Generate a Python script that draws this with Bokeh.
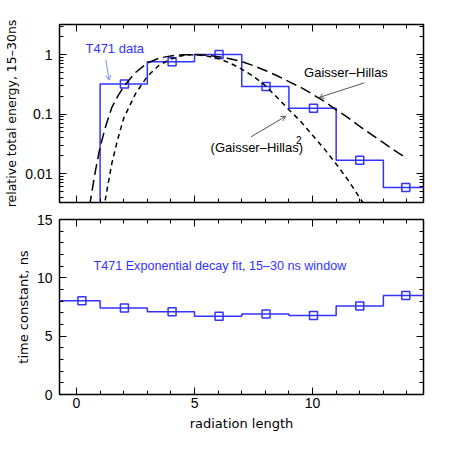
from bokeh.plotting import figure
from bokeh.models import (Range1d, LinearAxis, LogAxis, FixedTicker, Label, Arrow,
                          OpenHead, CustomJSTickFormatter)
from bokeh.layouts import column
from bokeh.embed import file_html
from bokeh.resources import INLINE

# ---------------- data ----------------
bin_edges = [-1, 1, 3, 5, 7, 9, 11, 13, 15]
marker_x = [0.23, 2.03, 4.05, 6.04, 8.03, 10.04, 12.0, 13.95]
# relative total energy per bin (first bin below plotted range)
energy = [0.0001, 0.32, 0.76, 1.0, 0.29, 0.125, 0.0167, 0.0058]
# exponential decay time constant, ns
tau = [8.03, 7.42, 7.1, 6.7, 6.9, 6.78, 7.58, 8.48]

gh_t = [0.55, 0.8, 1.0, 1.25, 1.5, 1.75, 2.0, 2.5, 3.0, 3.5, 4.0, 4.5, 5.0, 5.5, 6.0,
        6.5, 7.0, 7.5, 8.0, 8.5, 9.0, 9.5, 10.0, 10.5, 11.0, 11.5, 12.0, 12.5, 13.0,
        13.5, 14.0]
gh_val = [0.0028, 0.011, 0.028, 0.065, 0.13, 0.2, 0.29, 0.5, 0.72, 0.87, 0.95, 0.99,
          1.0, 0.97, 0.92, 0.85, 0.76, 0.65, 0.54, 0.44, 0.35, 0.28, 0.215, 0.163,
          0.118, 0.087, 0.062, 0.045, 0.033, 0.024, 0.018]

gh2_t = [1.15, 1.3, 1.5, 1.75, 2.0, 2.5, 3.0, 3.5, 4.0, 4.5, 5.0, 5.5, 6.0, 6.5, 7.0,
         7.5, 8.0, 8.5, 9.0, 9.5, 10.0, 10.5, 11.0, 11.5, 12.0, 12.3]
gh2_val = [0.0025, 0.0055, 0.015, 0.038, 0.085, 0.22, 0.43, 0.66, 0.84, 0.96, 1.0,
           0.95, 0.86, 0.72, 0.57, 0.43, 0.30, 0.19, 0.118, 0.075, 0.044, 0.026,
           0.0145, 0.0078, 0.0039, 0.0026]

x_major = [0, 5, 10]
x_minor = list(range(0, 15))
e_major = [0.01, 0.1, 1]
t_major = [0, 5, 10, 15]
t_minor = list(range(0, 16))

BLUE = "#3333ff"
TICK_FONT = "Liberation Sans"
LABEL_FONT = "DejaVu Sans"


def step_path(edges, vals):
    xs, ys = [], []
    for i, v in enumerate(vals):
        xs += [edges[i], edges[i + 1]]
        ys += [v, v]
    return xs, ys


def style_axis(ax, show_labels=True, major_len=7, minor_len=4):
    ax.axis_line_color = None
    ax.major_tick_in = major_len
    ax.major_tick_out = 0
    ax.minor_tick_in = minor_len
    ax.minor_tick_out = 0
    ax.major_tick_line_color = "black"
    ax.minor_tick_line_color = "black"
    ax.major_tick_line_width = 1
    ax.minor_tick_line_width = 1
    ax.major_label_text_font = TICK_FONT
    ax.major_label_text_color = "black"
    if show_labels:
        ax.major_label_text_font_size = "14px"
        ax.major_label_standoff = 7
    else:
        ax.formatter = CustomJSTickFormatter(code="return '';")
        ax.major_label_text_font_size = "2px"
        ax.major_label_standoff = 0
    ax.axis_label_text_font = LABEL_FONT
    ax.axis_label_text_font_size = "13px"
    ax.axis_label_text_font_style = "normal"
    ax.axis_label_text_color = "black"
    ax.axis_label_standoff = 3


fmt = CustomJSTickFormatter(code="return String(tick);")

# ---------------- top panel ----------------
xr = Range1d(-0.72, 14.7)
p1 = figure(width=434, height=209, x_range=xr,
            y_range=Range1d(0.00326, 3.2), y_axis_type="log",
            output_backend="svg", toolbar_location=None,
            min_border_left=59, min_border_right=11, min_border_top=24,
            min_border_bottom=7)
p1.outline_line_color = "black"
p1.outline_line_width = 1.5
p1.grid.visible = False
p1.background_fill_color = "white"

log_minor = [m * 10.0 ** e for e in range(-3, 1) for m in range(2, 10)]
p1.yaxis.ticker = FixedTicker(ticks=e_major, minor_ticks=log_minor)
style_axis(p1.yaxis[0])
p1.yaxis.formatter = fmt
p1.yaxis.axis_label = "relative total energy, 15\u201330ns"
p1.yaxis.axis_label_text_font_size = "12.5px"
p1.xaxis.ticker = FixedTicker(ticks=x_major, minor_ticks=x_minor)
style_axis(p1.xaxis[0], show_labels=False)

ax_r1 = LogAxis(ticker=FixedTicker(ticks=e_major, minor_ticks=log_minor))
style_axis(ax_r1, show_labels=False)
p1.add_layout(ax_r1, "right")
ax_t1 = LinearAxis(ticker=FixedTicker(ticks=x_major, minor_ticks=x_minor))
style_axis(ax_t1, show_labels=False)
p1.add_layout(ax_t1, "above")

sx, sy = step_path(bin_edges, energy)
p1.line(sx, sy, line_color=BLUE, line_width=1.5)
p1.scatter(marker_x, energy, marker="square", size=8, fill_color=None,
           line_color=BLUE, line_width=1.5)
p1.line(gh_t, gh_val, line_color="black", line_width=1.5, line_dash="11 5")
p1.line(gh2_t, gh2_val, line_color="black", line_width=1.5, line_dash="5 4")

p1.add_layout(Label(x=0.38, y=1.26, text="T471 data", text_font=TICK_FONT,
                    text_font_size="13px", text_color=BLUE, text_baseline="middle"))
p1.add_layout(Arrow(x_start=1.24, y_start=0.82, x_end=1.38, y_end=0.37,
                    line_color="#7f8fff", line_width=1,
                    end=OpenHead(size=5, line_color="#7f8fff", line_width=1)))
p1.add_layout(Label(x=9.64, y=0.5, text="Gaisser\u2013Hillas", text_font=TICK_FONT,
                    text_font_size="13px", text_color="black", text_baseline="middle"))
p1.add_layout(Arrow(x_start=12.19, y_start=0.334, x_end=10.28, y_end=0.19,
                    line_color="#555555", line_width=1,
                    end=OpenHead(size=5, line_color="#555555", line_width=1)))
p1.add_layout(Label(x=5.68, y=0.0273, text="(Gaisser\u2013Hillas)", text_font=TICK_FONT,
                    text_font_size="13px", text_color="black", text_baseline="middle"))
p1.add_layout(Label(x=9.3, y=0.037, text="2", text_font=TICK_FONT,
                    text_font_size="10px", text_color="black", text_baseline="middle"))
p1.add_layout(Arrow(x_start=7.39, y_start=0.0414, x_end=8.87, y_end=0.092,
                    line_color="#555555", line_width=1,
                    end=OpenHead(size=5, line_color="#555555", line_width=1)))

# ---------------- bottom panel ----------------
p2 = figure(width=434, height=224, x_range=xr,
            y_range=Range1d(0, 15),
            output_backend="svg", toolbar_location=None,
            min_border_left=59, min_border_right=11, min_border_top=10,
            min_border_bottom=36)
p2.outline_line_color = "black"
p2.outline_line_width = 1.5
p2.grid.visible = False

p2.yaxis.ticker = FixedTicker(ticks=t_major, minor_ticks=t_minor)
style_axis(p2.yaxis[0])
p2.yaxis.axis_label = "time constant, ns"
p2.xaxis.ticker = FixedTicker(ticks=x_major, minor_ticks=x_minor)
style_axis(p2.xaxis[0])
p2.xaxis.axis_label = "radiation length"
p2.xaxis.major_label_standoff = 3
p2.xaxis.axis_label_standoff = 5

ax_r2 = LinearAxis(ticker=FixedTicker(ticks=t_major, minor_ticks=t_minor))
style_axis(ax_r2, show_labels=False)
p2.add_layout(ax_r2, "right")
ax_t2 = LinearAxis(ticker=FixedTicker(ticks=x_major, minor_ticks=x_minor))
style_axis(ax_t2, show_labels=False)
p2.add_layout(ax_t2, "above")

tx, ty = step_path(bin_edges, tau)
p2.line(tx, ty, line_color=BLUE, line_width=1.5)
p2.scatter(marker_x, tau, marker="square", size=8, fill_color=None,
           line_color=BLUE, line_width=1.5)
p2.add_layout(Label(x=0.72, y=11.0, text="T471 Exponential decay fit, 15\u201330 ns window",
                    text_font=TICK_FONT, text_font_size="12.6px", text_color=BLUE,
                    text_baseline="middle"))

layout = column(p1, p2, spacing=0)
open("out.html", "w").write(file_html(layout, INLINE))
